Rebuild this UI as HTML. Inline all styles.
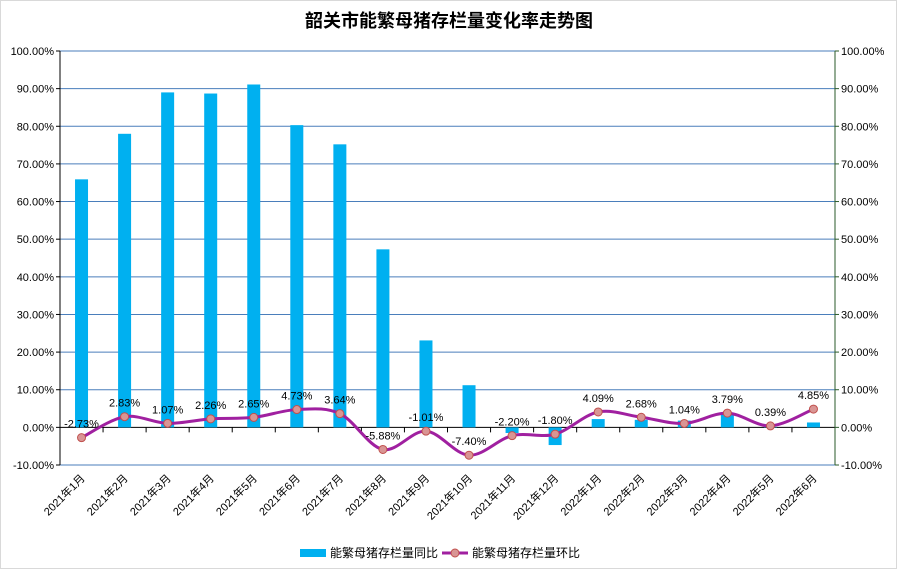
<!DOCTYPE html>
<html><head><meta charset="utf-8"><style>
body{margin:0;background:#fff;}
svg{display:block;font-family:"Liberation Sans","Noto Sans CJK SC",sans-serif;}
</style></head><body>
<svg id="c" width="898" height="570">
<rect x="0.5" y="0.5" width="896" height="568" fill="#fff" stroke="#d9d9d9"/>
<text x="449" y="27" text-anchor="middle" font-size="18" font-weight="bold">韶关市能繁母猪存栏量变化率走势图</text>
<g id="plot"></g>
<g>
<rect x="300" y="549" width="26" height="8" fill="#00b0f0"/>
<text x="330" y="557" font-size="12">能繁母猪存栏量同比</text>
<line x1="442" y1="553" x2="468" y2="553" stroke="#a020a0" stroke-width="3"/>
<circle cx="455" cy="553" r="4" fill="#d99594" stroke="#c0504d"/>
<text x="472" y="557" font-size="12">能繁母猪存栏量环比</text>
</g>
</svg>
<script>
const categories=["2021年1月","2021年2月","2021年3月","2021年4月","2021年5月","2021年6月","2021年7月","2021年8月","2021年9月","2021年10月","2021年11月","2021年12月","2022年1月","2022年2月","2022年3月","2022年4月","2022年5月","2022年6月"];
const yoyValues=[65.9,78.0,89.0,88.7,91.1,80.3,75.2,47.3,23.1,11.2,-1.5,-4.7,2.2,2.0,1.8,3.8,0.1,1.3];
const momValues=[-2.73,2.83,1.07,2.26,2.65,4.73,3.64,-5.88,-1.01,-7.40,-2.20,-1.80,4.09,2.68,1.04,3.79,0.39,4.85];
const tickValues=[-10,0,10,20,30,40,50,60,70,80,90,100];
const NS="http://www.w3.org/2000/svg";
const L=60,R=835,T=51,B=465;
const y=v=>T+(100-v)*(B-T)/110;
const bw=(R-L)/categories.length;
const x=i=>L+bw*(i+0.5);
const g=document.getElementById('plot');
function mk(t,a,p){const e=document.createElementNS(NS,t);for(const k in a)e.setAttribute(k,a[k]);(p||g).appendChild(e);return e;}
tickValues.forEach(v=>{
 const ln=mk('line',{x1:L,x2:R,y1:y(v),y2:y(v),stroke:v===0?'#000':'#4a7ebb','stroke-width':1});
 
 
 const t1=mk('text',{x:L-6,y:y(v)+4,'text-anchor':'end','font-size':11});
 t1.textContent=v.toFixed(2)+'%';
 
 
 const t2=mk('text',{x:R+6,y:y(v)+4,'font-size':11});
 t2.textContent=v.toFixed(2)+'%';
 
 
 mk('line',{x1:L-4,x2:L,y1:y(v),y2:y(v),stroke:'#000'});
 mk('line',{x1:R,x2:R+4,y1:y(v),y2:y(v),stroke:'#2a5a2a'});
});
const la=mk('line',{x1:L,x2:L,y1:T,y2:B,stroke:'#000'});


const ra=mk('line',{x1:R,x2:R,y1:T,y2:B,stroke:'#2a5a2a'});


categories.forEach((c,i)=>{
 mk('line',{x1:L+bw*i,x2:L+bw*i,y1:y(0),y2:y(0)+5,stroke:'#000'});
 const v=yoyValues[i];
 const b=mk('rect',{x:x(i)-6.5,width:13,y:Math.min(y(v),y(0)),height:Math.abs(y(v)-y(0)),fill:'#00b0f0'});
 
 
 const tx=x(i)+4,ty=B+14;
 const t=mk('text',{x:tx,y:ty,'text-anchor':'end','font-size':11,transform:`rotate(-45 ${tx} ${ty})`});
 t.textContent=c;
 
 
});
// smooth line (Catmull-Rom)
const pts=momValues.map((v,i)=>[x(i),y(v)]);
let d=`M${pts[0][0]},${pts[0][1]}`;
for(let i=0;i<pts.length-1;i++){
 const p0=pts[i-1]||pts[i],p1=pts[i],p2=pts[i+1],p3=pts[i+2]||p2;
 const c1=[p1[0]+(p2[0]-p0[0])/6,p1[1]+(p2[1]-p0[1])/6];
 const c2=[p2[0]-(p3[0]-p1[0])/6,p2[1]-(p3[1]-p1[1])/6];
 d+=` C${c1[0]},${c1[1]} ${c2[0]},${c2[1]} ${p2[0]},${p2[1]}`;
}
const path=mk('path',{d:d,fill:'none',stroke:'#a020a0','stroke-width':3});


pts.forEach((p,i)=>{
 const c=mk('circle',{cx:p[0],cy:p[1],r:4,fill:'#d99594',stroke:'#c0504d'});
 
 
 const t=mk('text',{x:p[0],y:p[1]-10,'text-anchor':'middle','font-size':11});
 t.textContent=momValues[i].toFixed(2)+'%';
 
 
});
</script>
</body></html>
